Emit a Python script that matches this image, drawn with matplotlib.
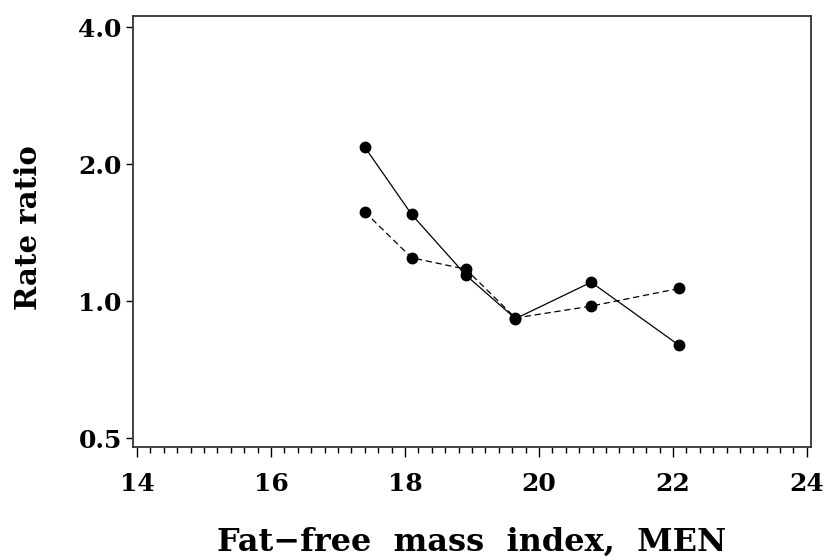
import matplotlib
matplotlib.use("Agg")
import matplotlib.pyplot as plt
from matplotlib.ticker import FixedLocator, FixedFormatter, MultipleLocator, NullLocator

# Fat-free mass index (kg/m^2) at the midpoint of each category
ffmi = [17.40, 18.10, 18.91, 19.65, 20.78, 22.09]
# Rate ratios for the two models
rr_solid = [2.18, 1.55, 1.14, 0.915, 1.10, 0.80]
rr_dashed = [1.57, 1.245, 1.175, 0.918, 0.975, 1.066]

y_ticks = [0.5, 1.0, 2.0, 4.0]
y_tick_labels = ["0.5", "1.0", "2.0", "4.0"]
x_ticks = [14, 16, 18, 20, 22, 24]

plt.rcParams["font.family"] = ["DejaVu Serif"]
plt.rcParams["font.weight"] = "bold"

fig = plt.figure(figsize=(8.3, 5.6), dpi=100)
ax = fig.add_axes([0.1602, 0.2018, 0.8168, 0.7696])

ax.plot(ffmi, rr_solid, color="black", lw=0.9, ls="-",
        marker="o", ms=7.5, mfc="black", mec="black")
ax.plot(ffmi, rr_dashed, color="black", lw=0.9, ls=(0, (5, 3)),
        marker="o", ms=7.5, mfc="black", mec="black")

ax.set_yscale("log")
ax.set_ylim(0.478, 4.23)
ax.set_xlim(13.94, 24.06)

ax.yaxis.set_major_locator(FixedLocator(y_ticks))
ax.yaxis.set_major_formatter(FixedFormatter(y_tick_labels))
ax.yaxis.set_minor_locator(NullLocator())
ax.xaxis.set_major_locator(FixedLocator(x_ticks))
ax.xaxis.set_minor_locator(MultipleLocator(0.2))

ax.tick_params(axis="y", which="major", length=5, width=1, pad=3, labelsize=18)
ax.tick_params(axis="x", which="major", length=7, width=1, pad=11, labelsize=18)
ax.tick_params(axis="x", which="minor", length=4, width=1)

for s in ax.spines.values():
    s.set_linewidth(1.3)
    s.set_color("#333333")

ax.set_xlabel("Fat\u2212free  mass  index,  MEN", fontsize=23, fontweight="bold")
ax.set_ylabel("Rate ratio", fontsize=21, fontweight="bold")
ax.xaxis.set_label_coords(0.5, -0.185)
ax.yaxis.set_label_coords(-0.133, 0.508)

fig.savefig("out.png", dpi=100)
